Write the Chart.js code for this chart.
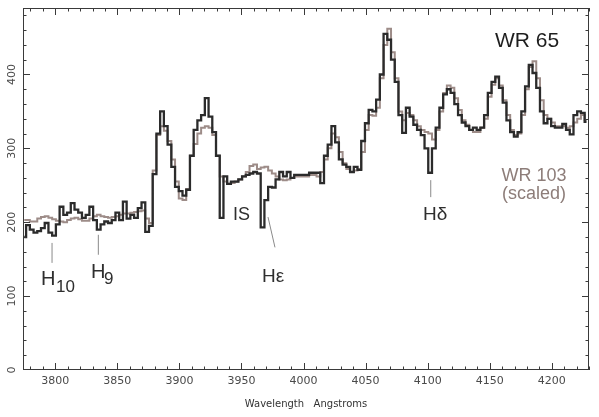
<!DOCTYPE html>
<html>
<head>
<meta charset="utf-8">
<script src="https://cdn.jsdelivr.net/npm/chart.js@4.4.0/dist/chart.umd.min.js"></script>
<style>
  body { margin: 0; background: #fff; }
</style>
</head>
<body>
<canvas id="spectrum" width="599" height="417"></canvas>
<script>
// wavelength bins (Angstroms)
const wavelength = [
  3775, 3778, 3781, 3784, 3787, 3790, 3793, 3796, 3799, 3802,
  3805, 3808, 3811, 3814, 3817, 3820, 3823, 3826, 3829, 3832,
  3835, 3838, 3841, 3844, 3847, 3850, 3853, 3856, 3859, 3862,
  3865, 3868, 3871, 3874, 3877, 3880, 3883, 3886, 3889, 3892,
  3895, 3898, 3901, 3904, 3907, 3910, 3913, 3916, 3919, 3922,
  3925, 3928, 3931, 3934, 3937, 3940, 3943, 3946, 3949, 3952,
  3955, 3958, 3961, 3964, 3967, 3970, 3973, 3976, 3979, 3982,
  3985, 3988, 3991, 3994, 3997,
  4000, 4003, 4006, 4009, 4012, 4015, 4018, 4021, 4024, 4027,
  4030, 4033, 4036, 4039, 4042, 4045, 4048, 4051, 4054, 4057,
  4060, 4063, 4066, 4069, 4072, 4075, 4078, 4081, 4084, 4087,
  4090, 4093, 4096, 4099, 4102, 4105, 4108, 4111, 4114, 4117,
  4120, 4123, 4126, 4129, 4132, 4135, 4138, 4141, 4144, 4147,
  4150, 4153, 4156, 4159, 4162, 4165, 4168, 4171, 4174, 4177,
  4180, 4183, 4186, 4189, 4192, 4195, 4198, 4201, 4204, 4207,
  4210, 4213, 4216, 4219, 4222, 4225, 4228
];

// WR 65 flux
const wr65 = [
  180, 196, 190, 186, 188, 192, 199, 186, 182, 197,
  221, 210, 213, 226, 217, 213, 206, 210, 221, 203,
  190, 197, 201, 199, 203, 213, 203, 228, 205, 210,
  206, 219, 227, 187, 195, 265, 320, 350, 330, 305,
  275, 248, 242, 236, 244, 290, 325, 338, 345, 368,
  343, 322, 290, 206, 262, 252, 255, 255, 258, 262,
  264, 266, 268, 266, 193, 230, 248, 247, 258, 268,
  262, 268, 260, 264, 264,
  264, 264, 267, 267, 267, 253, 290, 305, 330, 308,
  285, 278, 275, 268, 275, 271, 310, 334, 352, 350,
  366, 400, 455, 447, 420, 390, 345, 321, 355, 343,
  332, 325, 318, 300, 267, 300, 328, 355, 373, 380,
  375, 360, 345, 335, 330, 325, 328, 325, 328, 345,
  375, 390, 397, 382, 362, 338, 322, 316, 322, 350,
  384, 413, 402, 382, 350, 334, 340, 330, 328, 328,
  333, 325, 319, 345, 350, 348, 336
];

// WR 103 flux (scaled)
const wr103 = [
  203, 203, 201, 201, 205, 207, 208, 206, 204, 202,
  201, 200, 203, 205, 206, 204, 202, 202, 205, 208,
  210, 208, 207, 206, 207, 208, 210, 212, 212, 213,
  214, 215, 216, 205, 199, 270, 318, 330, 324, 310,
  285, 255, 232, 230, 245, 290, 306, 320, 328, 330,
  328, 318, 290, 262, 255, 252, 253, 255, 258, 262,
  268, 276, 278, 272, 274, 275, 270, 266, 262, 258,
  257, 258, 260, 262, 262,
  262, 262, 264, 264, 262, 268, 285, 300, 320, 315,
  295, 280, 272, 268, 270, 272, 295, 325, 345, 344,
  355, 395, 440, 462, 430, 395, 350, 338, 348, 345,
  338, 330, 325, 322, 320, 312, 325, 350, 375, 385,
  382, 368, 352, 338, 332, 325, 322, 322, 328, 340,
  370, 386, 395, 385, 365, 345, 325, 318, 320, 345,
  380, 410, 418, 395, 365, 345, 340, 335, 330, 330,
  330, 328, 330, 335, 340, 345, 338
];

const xTicks = [3800, 3850, 3900, 3950, 4000, 4050, 4100, 4150, 4200];
const yTicks = [0, 100, 200, 300, 400];

const toPoints = (ys) => wavelength.map((x, i) => ({ x: x, y: ys[i] }));

// frame, inward ticks, labels and line identifications
const framePlugin = {
  id: 'frame',
  afterDraw(chart) {
    const ctx = chart.ctx;
    const a = chart.chartArea;
    const xs = chart.scales.x;
    const ys = chart.scales.y;
    const px = (v) => xs.getPixelForValue(v);
    const py = (v) => ys.getPixelForValue(v);

    ctx.save();
    ctx.strokeStyle = '#3a3a3a';
    ctx.lineWidth = 1;
    ctx.strokeRect(a.left + 0.5, a.top + 0.5, a.right - a.left - 1, a.bottom - a.top - 1);

    ctx.beginPath();
    for (let w = 3780; w <= 4230; w += 10) {
      const x = Math.round(px(w)) + 0.5;
      const len = w % 50 === 0 ? 7 : 3.5;
      ctx.moveTo(x, a.bottom); ctx.lineTo(x, a.bottom - len);
      ctx.moveTo(x, a.top); ctx.lineTo(x, a.top + len);
    }
    for (let f = 20; f < 490; f += 20) {
      const y = Math.round(py(f)) + 0.5;
      const len = f % 100 === 0 ? 7 : 3.5;
      ctx.moveTo(a.left, y); ctx.lineTo(a.left + len, y);
      ctx.moveTo(a.right, y); ctx.lineTo(a.right - len, y);
    }
    ctx.stroke();

    // tick labels
    ctx.fillStyle = '#4a4a4a';
    ctx.font = '11px "DejaVu Sans"';
    ctx.textAlign = 'center';
    ctx.textBaseline = 'middle';
    xTicks.forEach(t => ctx.fillText(String(t), px(t), 381));
    yTicks.forEach(t => {
      ctx.save();
      ctx.translate(12, py(t));
      ctx.rotate(-Math.PI / 2);
      ctx.fillText(String(t), 0, 0);
      ctx.restore();
    });

    ctx.fillStyle = '#333';
    ctx.font = '10px "DejaVu Sans"';
    ctx.fillText('Wavelength   Angstroms', (a.left + a.right) / 2, 404);

    // leader lines
    ctx.strokeStyle = '#8a8a8a';
    ctx.beginPath();
    [[3797.4, 172, 3797.4, 145], [3834.7, 183, 3834.7, 156],
     [3971.4, 207, 3977.0, 166], [4102.5, 257, 4102.5, 234]].forEach(l => {
      ctx.moveTo(px(l[0]), py(l[1]));
      ctx.lineTo(px(l[2]), py(l[3]));
    });
    ctx.stroke();

    const text = (s, x, y, size, color, align) => {
      ctx.font = size + 'px "Liberation Sans"';
      ctx.fillStyle = color;
      ctx.textAlign = align || 'left';
      ctx.textBaseline = 'alphabetic';
      ctx.fillText(s, px(x), py(y));
    };
    text('H', 3788.5, 115, 20, '#2e2e2e');
    text('10', 3800.6, 105.5, 17, '#2e2e2e');
    text('H', 3828.8, 124.5, 20, '#2e2e2e');
    text('9', 3839.3, 116.4, 17, '#2e2e2e');
    text('IS', 3943.2, 203, 18, '#2e2e2e');
    text('H\u03b5', 3966.6, 119, 19, '#2e2e2e');
    text('H\u03b4', 4096.3, 203, 19, '#2e2e2e');
    text('WR 65', 4154.3, 437, 21, '#1e1e1e');
    text('WR 103', 4185.7, 256, 18, '#8d7d79', 'center');
    text('(scaled)', 4185.7, 231.5, 18, '#8d7d79', 'center');
    ctx.restore();
  }
};

const data = {
  datasets: [
    {
      label: 'WR 65',
      data: toPoints(wr65),
      borderColor: '#2b2b2b',
      borderWidth: 2.3,
      stepped: 'middle',
      pointRadius: 0,
      order: 0
    },
    {
      label: 'WR 103 (scaled)',
      data: toPoints(wr103),
      borderColor: '#9d8c88',
      borderWidth: 2,
      stepped: 'middle',
      pointRadius: 0,
      order: 1
    }
  ]
};

const config = {
  type: 'line',
  data: data,
  options: {
    responsive: false,
    animation: false,
    devicePixelRatio: 1,
    layout: { padding: { left: 23, top: 8, right: 10, bottom: 47 } },
    plugins: {
      legend: { display: false },
      tooltip: { enabled: false }
    },
    scales: {
      x: { type: 'linear', min: 3774, max: 4230, display: false },
      y: { type: 'linear', min: 0, max: 490, display: false }
    }
  },
  plugins: [framePlugin]
};

new Chart(document.getElementById('spectrum'), config);
</script>
</body>
</html>
